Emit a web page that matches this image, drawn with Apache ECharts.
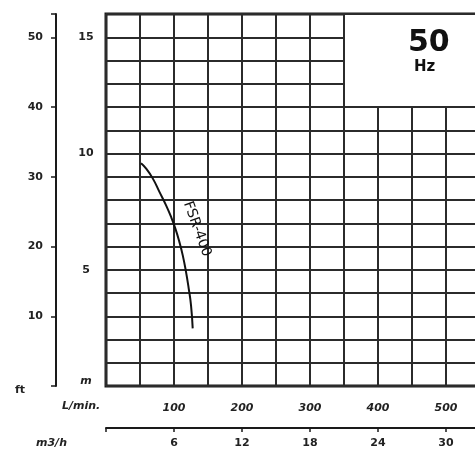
<!DOCTYPE html>
<html>
<head>
<meta charset="utf-8">
<script src="https://cdn.jsdelivr.net/npm/echarts@6/dist/echarts.min.js"></script>
<style>html,body{margin:0;padding:0;background:#fff;}#c{width:475px;height:455px;}</style>
</head>
<body>
<div id="c"></div>
<script>
// Data
var curveName = 'FSR-400';
var flowLmin = [51.5, 58.8, 68.7, 78.4, 88.2, 95.6, 101.9, 107.8, 112.8, 117.6, 121.6, 125, 127.5];
var headM = [9.58, 9.36, 8.93, 8.36, 7.78, 7.28, 6.78, 6.21, 5.63, 4.92, 4.2, 3.48, 2.48];
var lminTicks = [100, 200, 300, 400, 500];
var m3hTicks = [6, 12, 18, 24, 30];
var mTicks = [5, 10, 15];
var ftTicks = [10, 20, 30, 40, 50];
var freqLabel = '50';
var freqUnit = 'Hz';

var GRID = '#2b2b2b';
var chart = echarts.init(document.getElementById('c'));
var pts = flowLmin.map(function (x, i) { return [x, headM[i]]; });

chart.setOption({
  backgroundColor: '#fff',
  animation: false,
  grid: { left: 106, top: 14, width: 374, height: 372, outerBoundsMode: 'none', containLabel: false, show: true, borderColor: '#1a1a1a', borderWidth: 3, backgroundColor: 'transparent' },
  xAxis: [
    {
      type: 'value', min: 0, max: 550, interval: 50, position: 'bottom',
      axisLine: { show: false }, axisTick: { show: false },
      splitLine: { show: true, lineStyle: { color: GRID, width: 2 } },
      axisLabel: {
        margin: 17, color: '#222', fontFamily: 'DejaVu Sans', fontSize: 11, fontStyle: 'italic', fontWeight: 'bold',
        formatter: function (v) { return lminTicks.indexOf(v) >= 0 ? String(v) : ''; }
      }
    },
    {
      type: 'value', min: 0, max: 33, interval: 6, position: 'bottom', offset: 42,
      axisLine: { show: true, onZero: false, lineStyle: { color: '#1a1a1a', width: 2 } },
      axisTick: { show: true, length: 4, lineStyle: { color: '#1a1a1a', width: 1.5 } },
      splitLine: { show: false },
      axisLabel: {
        margin: 10, color: '#222', fontFamily: 'DejaVu Sans', fontSize: 11, fontWeight: 'bold',
        formatter: function (v) { return m3hTicks.indexOf(v) >= 0 ? String(v) : ''; }
      }
    }
  ],
  yAxis: [
    {
      type: 'value', min: 0, max: 16, interval: 1, position: 'left',
      axisLine: { show: false }, axisTick: { show: false },
      splitLine: { show: true, lineStyle: { color: GRID, width: 2 } },
      axisLabel: {
        margin: 20, align: 'center', color: '#222', fontFamily: 'DejaVu Sans', fontSize: 11, fontWeight: 'bold',
        formatter: function (v) { return v === 0 ? '{u|m}' : (mTicks.indexOf(v) >= 0 ? String(v) : ''); },
        rich: { u: { fontStyle: 'italic', fontWeight: 'bold', fontSize: 11, fontFamily: 'DejaVu Sans', color: '#222', padding: [0, 0, 10, 0] } }
      }
    },
    {
      type: 'value', min: 0, max: 16 * 10 / 3, interval: 10, position: 'left', offset: 50,
      axisLine: { show: true, onZero: false, lineStyle: { color: '#1a1a1a', width: 2 } },
      axisTick: { show: true, length: 5, lineStyle: { color: '#1a1a1a', width: 1.5 } },
      splitLine: { show: false },
      axisLabel: {
        margin: 13, color: '#222', fontFamily: 'DejaVu Sans', fontSize: 11, fontWeight: 'bold',
        formatter: function (v) { return ftTicks.indexOf(v) >= 0 ? String(v) : ''; }
      }
    }
  ],
  series: [
    {
      name: curveName, type: 'line', xAxisIndex: 0, yAxisIndex: 0, data: pts,
      smooth: true, symbol: 'none', lineStyle: { color: '#111', width: 2 }, z: 5,
      markPoint: {
        symbol: 'circle', symbolSize: 1, itemStyle: { color: 'rgba(0,0,0,0)' },
        label: { show: true, formatter: curveName, rotate: -70, color: '#111', fontFamily: 'DejaVu Sans', fontSize: 14, position: 'inside' },
        data: [{ coord: [134, 6.75] }]
      },
      markArea: {
        silent: true,
        itemStyle: { color: '#fff', borderColor: GRID, borderWidth: 2 },
        data: [[{ coord: [350, 12] }, { coord: [550, 16] }]]
      }
    }
  ],
  graphic: [
    { type: 'text', left: 408, top: 28, style: { text: freqLabel, font: 'bold 30px "DejaVu Sans"', fill: '#111' }, z: 10 },
    { type: 'text', left: 414, top: 60, style: { text: freqUnit, font: 'bold 15px "DejaVu Sans"', fill: '#111' }, z: 10 },
    { type: 'text', left: 15, top: 385, style: { text: 'ft', font: 'bold 11px "DejaVu Sans"', fill: '#222' } },
    { type: 'text', left: 62, top: 401, style: { text: 'L/min.', font: 'italic bold 11px "DejaVu Sans"', fill: '#222' } },
    { type: 'text', left: 36, top: 438, style: { text: 'm3/h', font: 'italic bold 11px "DejaVu Sans"', fill: '#222' } }
  ]
});
</script>
</body>
</html>
